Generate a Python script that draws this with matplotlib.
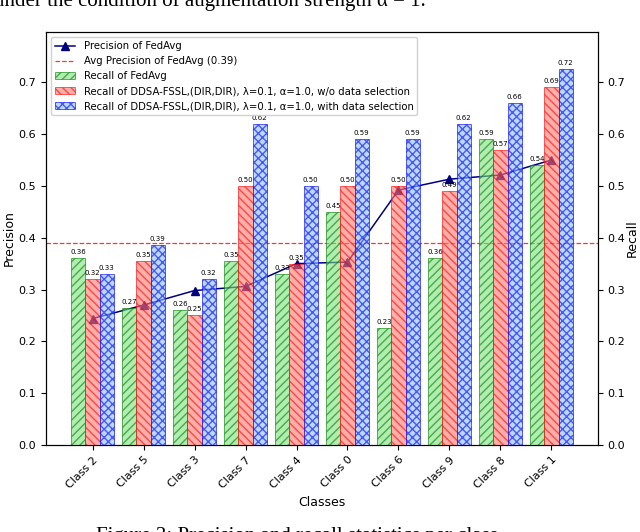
import numpy as np
import matplotlib
matplotlib.use("Agg")
import matplotlib.pyplot as plt

# data
classes = ['Class 2', 'Class 5', 'Class 3', 'Class 7', 'Class 4',
           'Class 0', 'Class 6', 'Class 9', 'Class 8', 'Class 1']
precision_fedavg = [0.244, 0.270, 0.298, 0.306, 0.350, 0.353, 0.492, 0.513, 0.521, 0.550]
avg_precision = 0.39
recall_fedavg = [0.36, 0.265, 0.26, 0.355, 0.33, 0.45, 0.225, 0.36, 0.59, 0.54]
recall_wo_sel = [0.32, 0.355, 0.25, 0.50, 0.35, 0.50, 0.50, 0.49, 0.57, 0.69]
recall_with_sel = [0.33, 0.385, 0.32, 0.62, 0.50, 0.59, 0.59, 0.62, 0.66, 0.725]

x = np.arange(len(classes))
w = 0.28

fig = plt.figure(figsize=(6.4, 5.32), dpi=100)
ax1 = fig.add_axes([46 / 640, 1 - 445 / 532, 552 / 640, 413 / 532])
ax2 = ax1.twinx()

# precision line on left axis
l1, = ax1.plot(x, precision_fedavg, marker='^', color='navy', lw=1.1, ms=5.5,
               label='Precision of FedAvg')
l2 = ax1.axhline(avg_precision, color='red', ls='--', lw=0.9, alpha=0.8,
                 label='Avg Precision of FedAvg (0.39)')

# recall bars on right axis
b1 = ax2.bar(x - w, recall_fedavg, w, color='#7ee07e', alpha=0.6, edgecolor='green',
             hatch='////', lw=0.7, label='Recall of FedAvg')
b2 = ax2.bar(x, recall_wo_sel, w, color='#ff7a70', alpha=0.6, edgecolor='red',
             hatch='\\\\\\\\', lw=0.7,
             label='Recall of DDSA-FSSL,(DIR,DIR), λ=0.1, α=1.0, w/o data selection')
b3 = ax2.bar(x + w, recall_with_sel, w, color='#8ec2f5', alpha=0.6, edgecolor='blue',
             hatch='xxxx', lw=0.7,
             label='Recall of DDSA-FSSL,(DIR,DIR), λ=0.1, α=1.0, with data selection')

for bars, vals in [(b1, recall_fedavg), (b2, recall_wo_sel), (b3, recall_with_sel)]:
    for r, v in zip(bars, vals):
        ax2.text(r.get_x() + r.get_width() / 2, v + 0.006, '%.2f' % v,
                 ha='center', va='bottom', fontsize=5)

ymax = 0.797
ax1.set_ylim(0, ymax)
ax2.set_ylim(0, ymax)
ax1.set_xticks(x)
ax1.set_xticklabels(classes, rotation=45, ha='right', rotation_mode='anchor', fontsize=8)
ax1.tick_params(axis='y', labelsize=8)
ax2.tick_params(axis='y', labelsize=8)
ax1.set_xlabel('Classes', fontsize=9)
ax1.set_ylabel('Precision', fontsize=9, labelpad=2)
ax2.set_ylabel('Recall', fontsize=9, labelpad=0)

ax2.legend([l1, l2, b1, b2, b3], [h.get_label() for h in [l1, l2, b1, b2, b3]],
           loc='upper left', fontsize=7.3, framealpha=0.9)

# surrounding caption text of the paper page (partly cut)
fig.text(-0.01, 1 + 9 / 532, 'under the condition of augmentation strength α = 1.',
         ha='left', va='top', fontsize=15, family='Liberation Serif')
fig.text(0.15, -14 / 532, 'Figure 3: Precision and recall statistics per class',
         ha='left', va='bottom', fontsize=15, family='Liberation Serif')

fig.savefig('out.png', dpi=100)
